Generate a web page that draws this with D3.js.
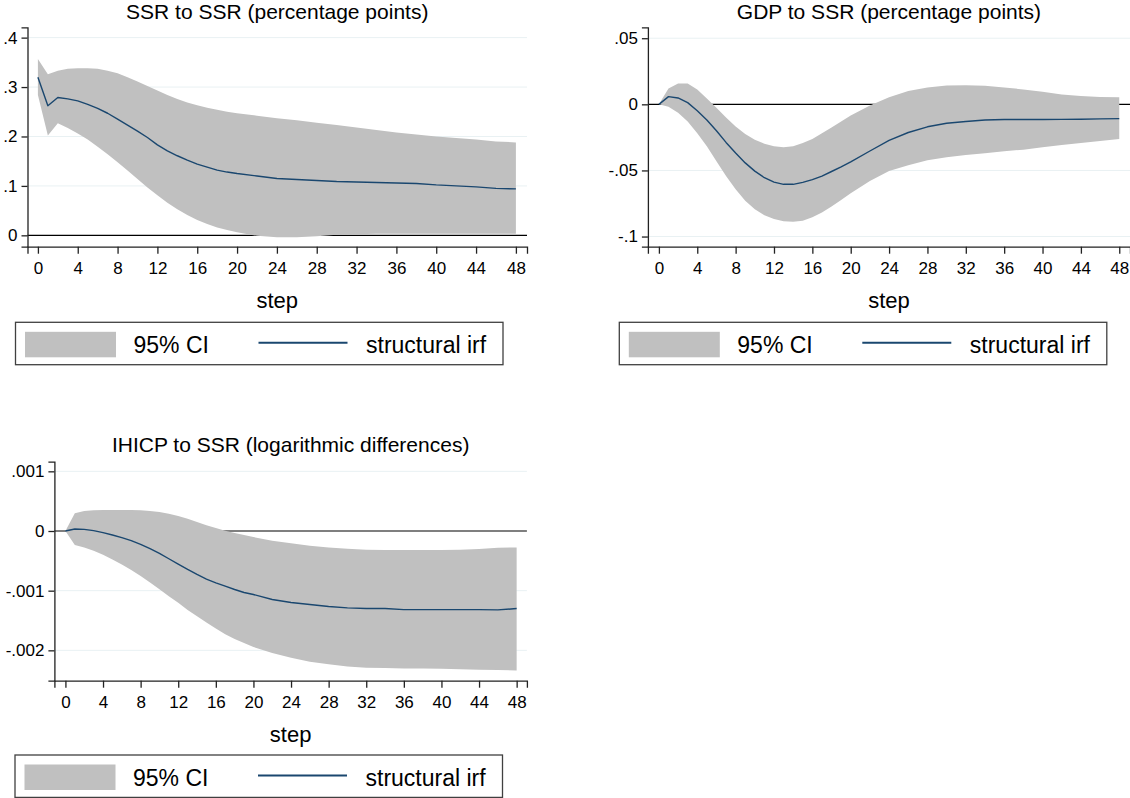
<!DOCTYPE html>
<html><head><meta charset="utf-8">
<script src="https://cdn.jsdelivr.net/npm/d3@7"></script>
<style>body{margin:0;background:#fff}svg{display:block}</style>
</head><body>
<svg id="chart" width="1130" height="798"></svg>
<script>
// ---------------- DATA ----------------
const steps = [0,1,2,3,4,5,6,7,8,9,10,11,12,13,14,15,16,17,18,19,20,22,24,26,28,30,32,34,36,38,40,42,44,46,48];

const ssrIrf = [.320,.262,.279,.276,.272,.265,.257,.247,.235,.223,.211,.198,.183,.171,.161,.152,.144,.138,.132,.128,.125,.120,.115,.113,.111,.109,.108,.107,.106,.105,.102,.100,.098,.095,.094];
const ssrHi  = [.357,.326,.333,.337,.338,.338,.337,.333,.328,.320,.311,.302,.293,.284,.276,.269,.263,.258,.254,.250,.247,.242,.237,.233,.228,.223,.218,.213,.208,.204,.200,.197,.194,.190,.188];
const ssrLo  = [.284,.202,.227,.217,.206,.194,.179,.164,.148,.131,.114,.097,.081,.066,.053,.041,.031,.023,.016,.011,.006,-.001,-.004,-.004,-.002,.001,.002,.003,.003,.003,.003,.003,.003,.003,.003];

const gdpIrf = [0,.0058,.0048,.0013,-.0048,-.0118,-.0200,-.0288,-.0368,-.0443,-.0505,-.0555,-.0588,-.0605,-.0605,-.0590,-.0570,-.0543,-.0508,-.0473,-.0435,-.0353,-.0273,-.0213,-.0170,-.0143,-.0130,-.0118,-.0115,-.0115,-.0115,-.0114,-.0113,-.0110,-.0108];
const gdpHi  = [0,.0120,.0158,.0158,.0113,.0045,-.0025,-.0100,-.0168,-.0225,-.0268,-.0298,-.0318,-.0325,-.0318,-.0293,-.0263,-.0218,-.0175,-.0130,-.0085,-.0008,.0053,.0100,.0128,.0143,.0145,.0140,.0128,.0113,.0095,.0075,.0063,.0055,.0053];
const gdpLo  = [0,-.0018,-.0063,-.0130,-.0218,-.0318,-.0430,-.0543,-.0643,-.0730,-.0793,-.0838,-.0868,-.0885,-.0888,-.0880,-.0855,-.0818,-.0773,-.0723,-.0673,-.0580,-.0505,-.0460,-.0423,-.0400,-.0383,-.0370,-.0355,-.0343,-.0325,-.0308,-.0293,-.0278,-.0263];

const hicpIrf = [0,.034e-3,.028e-3,.006e-3,-.028e-3,-.067e-3,-.112e-3,-.162e-3,-.224e-3,-.297e-3,-.375e-3,-.465e-3,-.555e-3,-.644e-3,-.728e-3,-.807e-3,-.868e-3,-.924e-3,-.980e-3,-1.031e-3,-1.064e-3,-1.148e-3,-1.199e-3,-1.232e-3,-1.266e-3,-1.289e-3,-1.300e-3,-1.300e-3,-1.317e-3,-1.317e-3,-1.317e-3,-1.317e-3,-1.317e-3,-1.322e-3,-1.300e-3];
const hicpHi  = [0,.297e-3,.336e-3,.347e-3,.353e-3,.353e-3,.353e-3,.351e-3,.347e-3,.336e-3,.319e-3,.291e-3,.252e-3,.207e-3,.151e-3,.095e-3,.050e-3,.006e-3,-.034e-3,-.067e-3,-.101e-3,-.162e-3,-.207e-3,-.246e-3,-.275e-3,-.297e-3,-.314e-3,-.317e-3,-.319e-3,-.319e-3,-.319e-3,-.314e-3,-.303e-3,-.280e-3,-.275e-3];
const hicpLo  = [0,-.235e-3,-.275e-3,-.331e-3,-.398e-3,-.476e-3,-.560e-3,-.655e-3,-.756e-3,-.863e-3,-.975e-3,-1.092e-3,-1.204e-3,-1.322e-3,-1.429e-3,-1.535e-3,-1.636e-3,-1.731e-3,-1.810e-3,-1.877e-3,-1.944e-3,-2.045e-3,-2.123e-3,-2.190e-3,-2.235e-3,-2.269e-3,-2.291e-3,-2.297e-3,-2.303e-3,-2.305e-3,-2.308e-3,-2.317e-3,-2.325e-3,-2.330e-3,-2.336e-3];

const xTicks = [0,4,8,12,16,20,24,28,32,36,40,44,48];
const ssrYTicks = [0,.1,.2,.3,.4];
const ssrYLabels = ["0",".1",".2",".3",".4"];
const gdpYTicks = [-.1,-.05,0,.05];
const gdpYLabels = ["-.1","-.05","0",".05"];
const hicpYTicks = [-.002,-.001,0,.001];
const hicpYLabels = ["-.002","-.001","0",".001"];

const titles = ["SSR to SSR (percentage points)","GDP to SSR (percentage points)","IHICP to SSR (logarithmic differences)"];
const xTitle = "step";
const legendLabels = ["95% CI","structural irf"];

// ---------------- LAYOUT / STYLE ----------------
const FONT = "'Liberation Sans', Arial, Helvetica, sans-serif";
const BAND = "#c0c0c0", LINE = "#1a476f", GRID = "#e9f1f3", AXIS = "#222";

const panels = [
  {title:titles[0], irf:ssrIrf, lo:ssrLo, hi:ssrHi, yTicks:ssrYTicks, yLabels:ssrYLabels,
   xr:[27.5,527], yr:[246.7,27.3], xd:[-1.045,49.115], yd:[-0.0230,0.4209], titleY:18.5, legX:15.5, legY:322.3},
  {title:titles[1], irf:gdpIrf, lo:gdpLo, hi:gdpHi, yTicks:gdpYTicks, yLabels:gdpYLabels,
   xr:[647.9,1130], yr:[246.7,27.3], xd:[-1.147,49.12], yd:[-0.10768,0.05826], titleY:18.5, legX:619.3, legY:322.3},
  {title:titles[2], irf:hicpIrf, lo:hicpLo, hi:hicpHi, yTicks:hicpYTicks, yLabels:hicpYLabels,
   xr:[54.4,526.9], yr:[680.7,461.7], xd:[-1.172,49.09], yd:[-2.5088e-3,1.1614e-3], titleY:451.5, legX:15, legY:755}
];

const svg = d3.select("#chart");

panels.forEach(p => {
  const x = d3.scaleLinear().domain(p.xd).range(p.xr);
  const y = d3.scaleLinear().domain(p.yd).range(p.yr);
  const g = svg.append("g");

  // gridlines
  g.selectAll("line.grid").data(p.yTicks.filter(v => v !== 0)).join("line")
    .attr("x1", p.xr[0]).attr("x2", p.xr[1])
    .attr("y1", d => y(d)).attr("y2", d => y(d))
    .attr("stroke", GRID).attr("stroke-width", 1);

  // zero line (beneath band)
  g.append("line").attr("x1", p.xr[0]).attr("x2", p.xr[1])
    .attr("y1", y(0)).attr("y2", y(0)).attr("stroke", "#000").attr("stroke-width", 1.2);

  // CI band
  const area = d3.area().x((d,i) => x(steps[i])).y0((d,i) => y(p.lo[i])).y1((d,i) => y(p.hi[i]));
  g.append("path").datum(p.irf).attr("d", area).attr("fill", BAND);

  // irf line
  const line = d3.line().x((d,i) => x(steps[i])).y(d => y(d));
  g.append("path").datum(p.irf).attr("d", line).attr("fill", "none")
    .attr("stroke", LINE).attr("stroke-width", 1.4).attr("stroke-linejoin", "round");

  // axes
  const ax = g.append("g").attr("transform", `translate(0,${p.yr[0]})`)
    .call(d3.axisBottom(x).tickValues(xTicks).tickFormat(d3.format("d")).tickSizeOuter(0).tickSize(7).tickPadding(8.5));
  const ay = g.append("g").attr("transform", `translate(${p.xr[0]},0)`)
    .call(d3.axisLeft(y).tickValues(p.yTicks).tickFormat((d,i) => p.yLabels[i]).tickSizeOuter(0).tickSize(6).tickPadding(4));
  [ax, ay].forEach(a => {
    a.select(".domain").attr("stroke", AXIS).attr("stroke-width", 1.3);
    a.selectAll(".tick line").attr("stroke", AXIS).attr("stroke-width", 1.3);
    a.selectAll(".tick text").attr("font-family", FONT).attr("font-size", 17).attr("fill", "#000");
  });

  const cx = (p.xr[0] + p.xr[1]) / 2;
  // title
  g.append("text").attr("x", cx).attr("y", p.titleY).attr("text-anchor", "middle")
    .attr("font-family", FONT).attr("font-size", 21).attr("fill", "#000").text(p.title);
  // x axis title
  g.append("text").attr("x", cx).attr("y", p.yr[0] + 61).attr("text-anchor", "middle")
    .attr("font-family", FONT).attr("font-size", 22).attr("fill", "#000").text(xTitle);

  // legend
  const lg = g.append("g").attr("transform", `translate(${p.legX},${p.legY})`);
  lg.append("rect").attr("x", 0).attr("y", 0).attr("width", 487.5).attr("height", 42.4)
    .attr("fill", "#fff").attr("stroke", "#404040").attr("stroke-width", 1.3);
  lg.append("rect").attr("x", 9.5).attr("y", 9.5).attr("width", 91).attr("height", 25.5).attr("fill", BAND);
  lg.append("text").attr("x", 118).attr("y", 31).attr("font-family", FONT).attr("font-size", 23)
    .attr("fill", "#000").text(legendLabels[0]);
  lg.append("line").attr("x1", 243).attr("x2", 332).attr("y1", 20.5).attr("y2", 20.5)
    .attr("stroke", LINE).attr("stroke-width", 2);
  lg.append("text").attr("x", 350.5).attr("y", 31).attr("font-family", FONT).attr("font-size", 23)
    .attr("fill", "#000").text(legendLabels[1]);
});
</script>
</body></html>
